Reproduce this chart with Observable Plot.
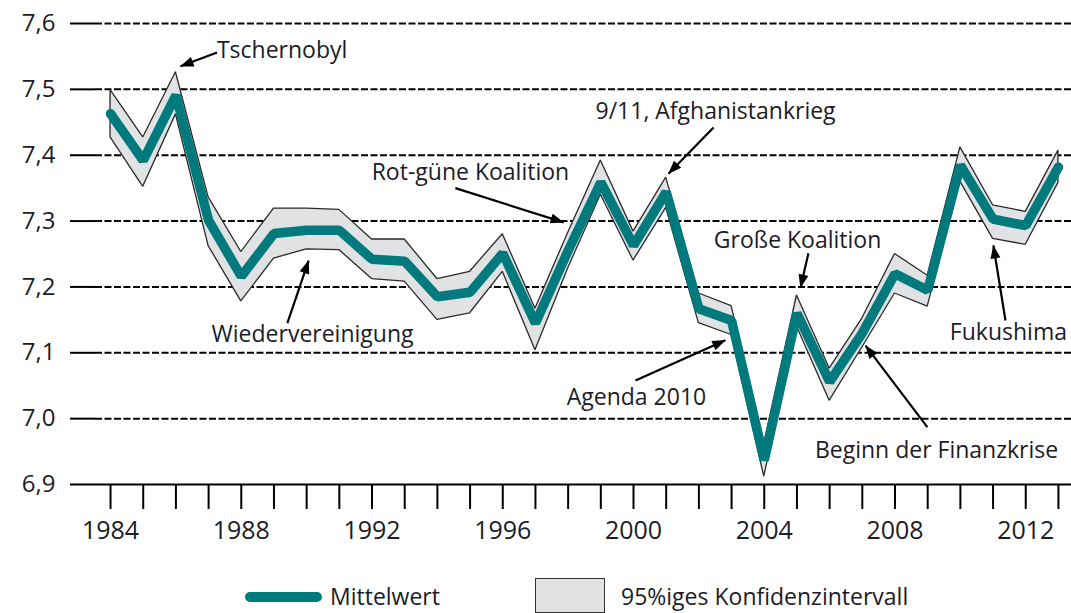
<!DOCTYPE html>
<html>
<head>
<meta charset="utf-8">
<script src="https://cdn.jsdelivr.net/npm/d3@7"></script>
<script src="https://cdn.jsdelivr.net/npm/@observablehq/plot@0.6"></script>
<style>
  html, body { margin: 0; padding: 0; background: #fff; }
  #wrap { position: relative; width: 1071px; height: 613px; font-family: "Open Sans", sans-serif; color: #1c1c28; }
  #legend { position: absolute; left: 0; top: 575px; width: 1071px; height: 38px; }
  .lg-item { position: absolute; font-size: 23px; line-height: 26px; white-space: nowrap; }
</style>
</head>
<body>
<div id="wrap">
  <div id="chart"></div>
  <div id="legend"></div>
</div>
<script>
const years = [1984,1985,1986,1987,1988,1989,1990,1991,1992,1993,1994,1995,1996,1997,1998,1999,2000,2001,2002,2003,2004,2005,2006,2007,2008,2009,2010,2011,2012,2013];
const meanValues = [7.463,7.392,7.491,7.301,7.216,7.281,7.286,7.286,7.242,7.239,7.185,7.192,7.251,7.145,7.255,7.359,7.263,7.344,7.167,7.149,6.937,7.160,7.056,7.130,7.220,7.195,7.385,7.303,7.293,7.382];
const upperValues = [7.499,7.427,7.526,7.336,7.253,7.319,7.319,7.317,7.272,7.272,7.212,7.223,7.280,7.167,7.282,7.392,7.284,7.366,7.190,7.171,6.962,7.187,7.076,7.152,7.250,7.217,7.412,7.324,7.314,7.407];
const lowerValues = [7.427,7.352,7.462,7.262,7.178,7.243,7.257,7.256,7.212,7.208,7.150,7.160,7.223,7.104,7.228,7.340,7.240,7.320,7.145,7.127,6.912,7.140,7.027,7.108,7.190,7.170,7.360,7.273,7.264,7.358];

const yTicks = [6.9,7.0,7.1,7.2,7.3,7.4,7.5,7.6];
const xLabelYears = [1984,1988,1992,1996,2000,2004,2008,2012];

const annoLabels = ["Tschernobyl","9/11, Afghanistankrieg","Rot-güne Koalition","Große Koalition","Wiedervereinigung","Agenda 2010","Beginn der Finanzkrise","Fukushima"];
const annoTextX = [1989.25,2002.51,1995.01,2005.02,1990.18,2000.09,2009.27,2011.47];
const annoTextY = [7.559,7.466,7.374,7.271,7.127,7.032,6.952,7.130];
const arrowFromX = [1987.26,2002.45,1994.55,2005.35,1989.41,2000.06,2008.99,2011.38];
const arrowFromY = [7.556,7.442,7.350,7.251,7.145,7.058,6.987,7.149];
const arrowToX = [1986.14,2001.07,1997.86,2005.11,1990.06,2002.81,2007.10,2011.01];
const arrowToY = [7.535,7.372,7.298,7.199,7.240,7.119,7.111,7.263];

const legendLabels = ["Mittelwert","95%iges Konfidenzintervall"];

const TEAL = "#007a7c";
const BAND = "#e1e2e4";
const INK = "#1c1c28";

const data = years.map((y, i) => ({year: y, mean: meanValues[i], hi: upperValues[i], lo: lowerValues[i]}));
const annos = annoLabels.map((t, i) => ({text: t, tx: annoTextX[i], ty: annoTextY[i], x1: arrowFromX[i], y1: arrowFromY[i], x2: arrowToX[i], y2: arrowToY[i]}));

const fmt = d => d3.format(".1f")(d).replace(".", ",");

function filledArrow(color, context) {
  const doc = (context && context.document) || document;
  const ns = "http://www.w3.org/2000/svg";
  const m = doc.createElementNS(ns, "marker");
  m.setAttribute("viewBox", "-14 -7 15 14");
  m.setAttribute("markerWidth", "15");
  m.setAttribute("markerHeight", "14");
  m.setAttribute("markerUnits", "userSpaceOnUse");
  m.setAttribute("orient", "auto");
  m.setAttribute("refX", "0");
  m.setAttribute("refY", "0");
  const p = doc.createElementNS(ns, "path");
  p.setAttribute("d", "M-13,-5L0.5,0L-13,5Z");
  p.setAttribute("fill", color);
  p.setAttribute("stroke", "none");
  m.appendChild(p);
  return m;
}

function build(useCustom) {
  const arrowMark = useCustom
    ? Plot.link(annos, {x1: "x1", y1: "y1", x2: "x2", y2: "y2", stroke: "black", strokeWidth: 2.2, markerEnd: filledArrow})
    : Plot.arrow(annos, {x1: "x1", y1: "y1", x2: "x2", y2: "y2", stroke: "black", strokeWidth: 2.2, headLength: 13, headAngle: 50});
  return Plot.plot({
    width: 1071,
    height: 575,
    marginLeft: 95,
    marginRight: 0,
    marginTop: 23,
    marginBottom: 91,
    style: {fontFamily: "Open Sans, sans-serif", color: INK, background: "white", overflow: "visible"},
    x: {domain: [1983.54, 2013.40]},
    y: {domain: [6.9, 7.6]},
    marks: [
      Plot.ruleY(yTicks.filter(d => d > 6.9), {stroke: "black", strokeWidth: 2, strokeDasharray: "7,2.5"}),
      Plot.ruleY([6.9], {stroke: "black", strokeWidth: 2}),
      Plot.axisY({ticks: yTicks, tickSize: 25, tickPadding: 15, tickFormat: fmt, fontSize: 24, strokeWidth: 2, stroke: "black", label: null, fill: INK}),
      Plot.axisX({ticks: years, tickSize: 25, tickPadding: 12, fontSize: 25, strokeWidth: 2, stroke: "black", label: null, fill: INK,
        tickFormat: d => xLabelYears.includes(d) ? String(d) : ""}),
      Plot.areaY(data, {x: "year", y1: "lo", y2: "hi", fill: BAND, stroke: "#2a2a2a", strokeWidth: 1.3, strokeLinejoin: "miter"}),
      Plot.line(data, {x: "year", y: "mean", stroke: TEAL, strokeWidth: 9.5, strokeLinejoin: "miter", strokeLinecap: "round"}),
      arrowMark,
      Plot.text(annos, {x: "tx", y: "ty", text: "text", fontSize: 23, fill: INK, textAnchor: "middle", lineAnchor: "middle"})
    ]
  });
}

let chart;
try { chart = build(true); } catch (e) { chart = build(false); }
document.getElementById("chart").appendChild(chart);

const legend = document.getElementById("legend");
legend.innerHTML = `
  <div class="lg-item" style="left:245px;top:17px;width:77px;height:10px;border-radius:5px;background:${TEAL}"></div>
  <div class="lg-item" style="left:330px;top:8px">${legendLabels[0]}</div>
  <div class="lg-item" style="left:535px;top:3px;width:68px;height:33px;background:${BAND};border:1.5px solid #333;box-sizing:content-box"></div>
  <div class="lg-item" style="left:621px;top:8px">${legendLabels[1]}</div>
`;
</script>
</body>
</html>
